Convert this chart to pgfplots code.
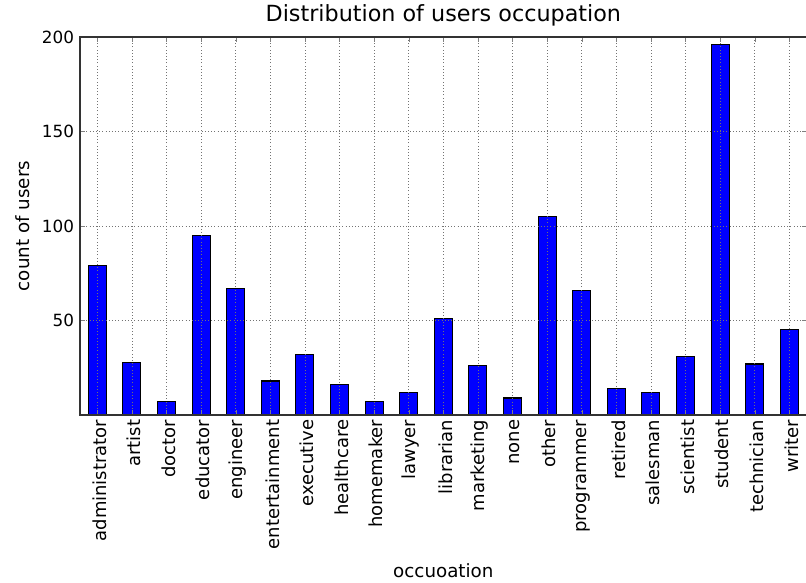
\documentclass[border=0pt]{standalone}
\usepackage{pgfplots}
\pgfplotsset{compat=1.18}
\usepackage{fontspec}
\setmainfont{DejaVu Sans}
\begin{document}
\begin{tikzpicture}
\begin{axis}[
  name=ax,
  scale only axis,
  width=545pt, height=283.5pt,
  xmin=-0.5, xmax=20.5, ymin=0, ymax=200,
  xtick={0,...,20},
  xticklabels={administrator,artist,doctor,educator,engineer,entertainment,executive,healthcare,homemaker,lawyer,librarian,marketing,none,other,programmer,retired,salesman,scientist,student,technician,writer},
  xticklabel style={rotate=90, anchor=east, font=\fontsize{13.5}{15}\selectfont, yshift=-1.5pt},
  ytick={50,100,150,200},
  yticklabel style={font=\fontsize{12.6}{14}\selectfont, xshift=-1pt},
  /pgf/number format/assume math mode=true,
  tick align=inside,
  tick pos=both,
  major tick length=3.5pt,
  axis on top,
  grid=major,
  grid style={dotted, black!55, line width=0.5pt},
  title={Distribution of users occupation},
  title style={font=\fontsize{16.7}{18}\selectfont, at={(axis description cs:0.5,1)}, anchor=base, yshift=5.25pt},
  xlabel={occuoation},
  ylabel={count of users},
  label style={font=\fontsize{13.7}{15}\selectfont},
  ylabel style={at={(axis description cs:-0.063,0.5)}, anchor=south, rotate=0},
  xlabel style={at={(axis description cs:0.5,-0.4286)}, anchor=base},
  axis line style={black!80, line width=0.8pt},
]
\addplot[ybar, bar width=0.52, fill={rgb,255:red,0;green,0;blue,255}, draw=black, line width=0.8pt] coordinates {
(0,79) (1,28) (2,7) (3,95) (4,67) (5,18) (6,32) (7,16) (8,7) (9,12) (10,51) (11,26) (12,9) (13,105) (14,66) (15,14) (16,12) (17,31) (18,196) (19,27) (20,45)
};
\end{axis}
\pgfresetboundingbox
\path[use as bounding box] ([shift={(-60pt,-125.25pt)}]ax.south west) rectangle ([shift={(544.5pt,311.25pt)}]ax.south west);
\end{tikzpicture}
\end{document}
